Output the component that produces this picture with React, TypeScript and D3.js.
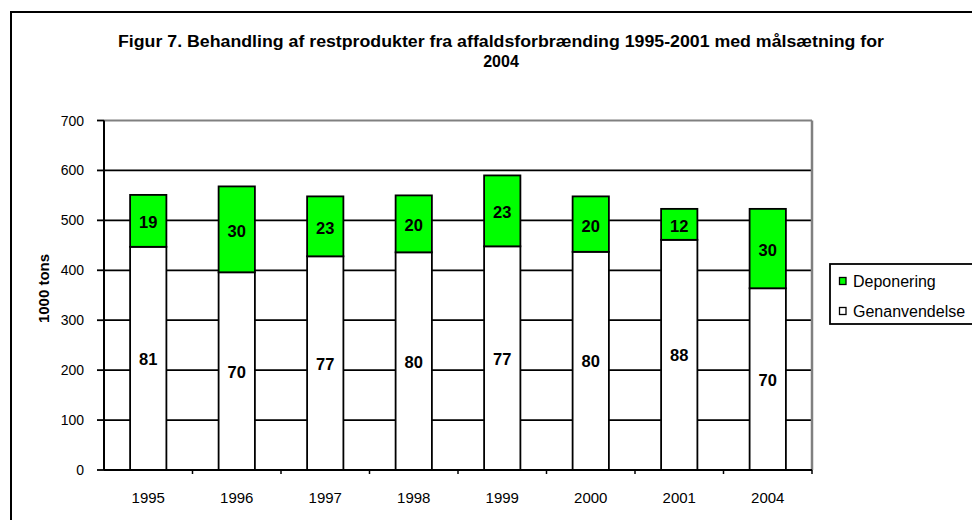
import React from "react";
import * as d3 from "d3";

const categories = ["1995", "1996", "1997", "1998", "1999", "2000", "2001", "2004"];
const genanvendelse = [447, 396, 428, 436, 448, 437, 461, 364];
const deponering = [104, 172, 120, 114, 142, 111, 62, 159];
const genanvendelsePct = ["81", "70", "77", "80", "77", "80", "88", "70"];
const deponeringPct = ["19", "30", "23", "20", "23", "20", "12", "30"];
const yTicks = [0, 100, 200, 300, 400, 500, 600, 700];
const seriesNames = ["Deponering", "Genanvendelse"];
const seriesColors = ["#00ff00", "#ffffff"];

const W = 972;
const H = 520;
const plot = { left: 104, right: 812, top: 120.5, bottom: 470 };
const font = "Arial, 'Liberation Sans', sans-serif";

export default function App() {
  const x = d3
    .scaleBand<string>()
    .domain(categories)
    .range([plot.left, plot.right])
    .paddingInner(0.59)
    .paddingOuter(0.295);
  const y = d3.scaleLinear().domain([0, 700]).range([plot.bottom, plot.top]);
  const step = x.step();

  return (
    <svg
      width={W}
      height={H}
      style={{ position: "absolute", left: 0, top: 0, background: "#fff" }}
      fontFamily={font}
    >
      <rect x={0} y={0} width={W} height={H} fill="#fff" />
      {/* outer chart border */}
      <rect x={11} y={12} width={W + 20} height={H + 20} fill="none" stroke="#000" strokeWidth={2} />

      {/* title */}
      <text
        x={501}
        y={47}
        textAnchor="middle"
        fontSize={16}
        fontWeight="bold"
        textLength={766}
        lengthAdjust="spacingAndGlyphs"
      >
        Figur 7. Behandling af restprodukter fra affaldsforbrænding 1995-2001 med målsætning for
      </text>
      <text x={501} y={67} textAnchor="middle" fontSize={16} fontWeight="bold">
        2004
      </text>

      {/* gridlines */}
      {yTicks
        .filter((t) => t > 0 && t < 700)
        .map((t) => (
          <line key={t} x1={plot.left} x2={plot.right} y1={y(t)} y2={y(t)} stroke="#000" strokeWidth={1.8} />
        ))}
      {/* plot frame top / right (gray) */}
      <line x1={plot.left} x2={plot.right} y1={y(700)} y2={y(700)} stroke="#808080" strokeWidth={2} />
      <line x1={plot.right} x2={plot.right} y1={y(700)} y2={plot.bottom} stroke="#808080" strokeWidth={2.5} />

      {/* bars */}
      {categories.map((c, i) => {
        const bx = x(c)!;
        const bw = x.bandwidth();
        const g = genanvendelse[i];
        const dp = deponering[i];
        return (
          <g key={c}>
            <rect x={bx} y={y(g)} width={bw} height={y(0) - y(g)} fill={seriesColors[1]} stroke="#000" strokeWidth={1.8} />
            <rect x={bx} y={y(g + dp)} width={bw} height={y(g) - y(g + dp)} fill={seriesColors[0]} stroke="#000" strokeWidth={1.8} />
            <text x={bx + bw / 2} y={(y(g) + y(g + dp)) / 2 + 7.5} textAnchor="middle" fontSize={16.5} fontWeight="bold">
              {deponeringPct[i]}
            </text>
            <text x={bx + bw / 2} y={(y(0) + y(g)) / 2 + 6.5} textAnchor="middle" fontSize={16.5} fontWeight="bold">
              {genanvendelsePct[i]}
            </text>
          </g>
        );
      })}

      {/* y axis */}
      <line x1={plot.left} x2={plot.left} y1={y(700)} y2={plot.bottom} stroke="#000" strokeWidth={2} />
      {yTicks.map((t) => (
        <g key={t}>
          <line x1={plot.left - 7} x2={plot.left} y1={y(t)} y2={y(t)} stroke="#000" strokeWidth={1.8} />
          <text x={84} y={y(t) + 5} textAnchor="end" fontSize={14}>
            {t}
          </text>
        </g>
      ))}
      <text
        transform={`translate(49, 288.5) rotate(-90)`}
        textAnchor="middle"
        fontSize={15}
        fontWeight="bold"
      >
        1000 tons
      </text>

      {/* x axis */}
      <line x1={plot.left} x2={plot.right} y1={plot.bottom} y2={plot.bottom} stroke="#000" strokeWidth={2} />
      {categories.map((c, i) => (
        <line
          key={"t" + c}
          x1={plot.left + step * (i + 1)}
          x2={plot.left + step * (i + 1)}
          y1={plot.bottom}
          y2={plot.bottom + 4}
          stroke="#000"
          strokeWidth={1.5}
        />
      ))}
      {categories.map((c) => (
        <text key={"l" + c} x={x(c)! + x.bandwidth() / 2} y={502.5} textAnchor="middle" fontSize={15}>
          {c}
        </text>
      ))}

      {/* legend */}
      <rect x={830} y={264} width={160} height={60} fill="#fff" stroke="#000" strokeWidth={1.8} />
      {seriesNames.map((n, i) => (
        <g key={n}>
          <rect x={839.5} y={277.5 + i * 30} width={6.5} height={7} fill={seriesColors[i]} stroke="#000" strokeWidth={1.3} />
          <text x={853} y={286.5 + i * 30} fontSize={16}>
            {n}
          </text>
        </g>
      ))}
    </svg>
  );
}
